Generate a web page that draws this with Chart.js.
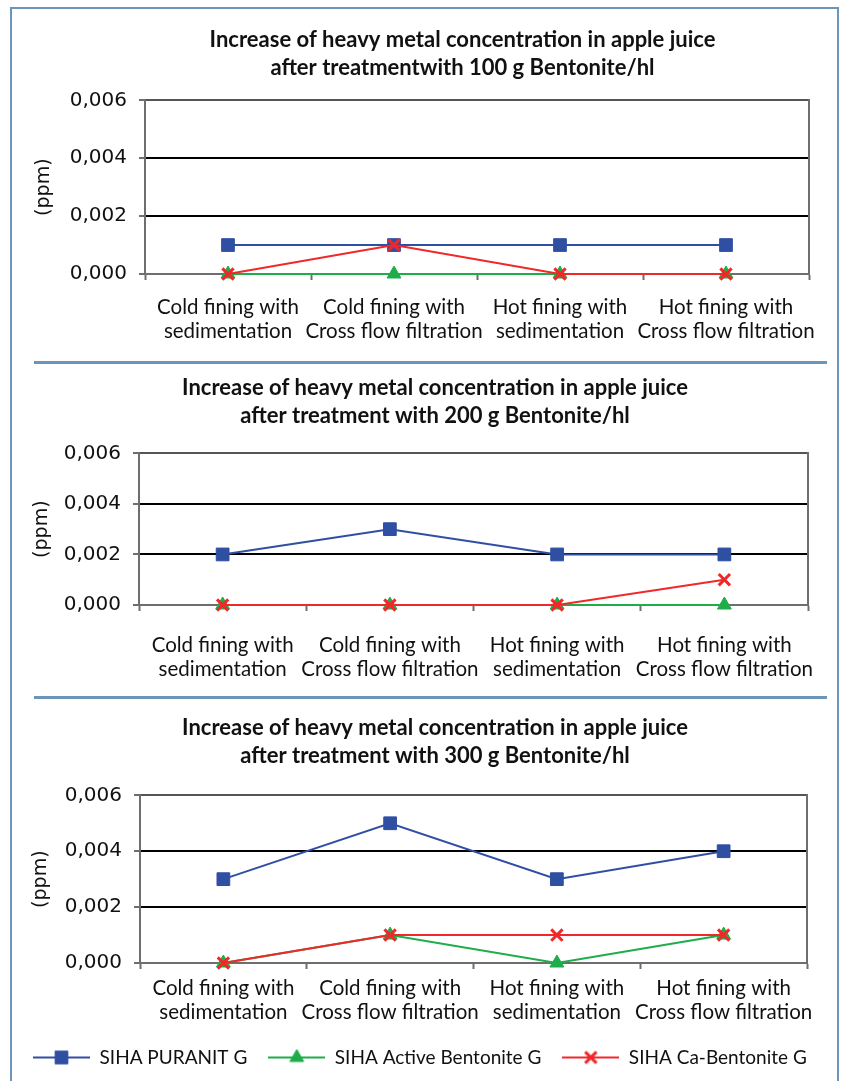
<!DOCTYPE html>
<html>
<head>
<meta charset="utf-8">
<script src="https://cdn.jsdelivr.net/npm/chart.js"></script>
<style>
  html, body { margin: 0; padding: 0; background: #fff; overflow: hidden; }
  #page { position: relative; width: 845px; height: 1081px; overflow: hidden; background: #fff; }
  .frame { position: absolute; left: 10px; top: 7px; width: 825px; height: 1100px; border: 2px solid #6b96ba; }
  .sep { position: absolute; left: 34px; width: 793px; height: 3px; background: #6b96ba; }
  canvas { position: absolute; }
</style>
</head>
<body>
<div id="page">
  <div class="frame"></div>
  <div class="sep" style="top:361px"></div>
  <div class="sep" style="top:696px"></div>
  <canvas id="chart100" width="925" height="340" style="left:0;top:12px"></canvas>
  <canvas id="chart200" width="870" height="319" style="left:0;top:366px"></canvas>
  <canvas id="chart300" width="846" height="379" style="left:12px;top:702px"></canvas>
</div>
<script>
// categories on the x axis (two lines each)
const categories = [
  ["Cold fining with", "sedimentation"],
  ["Cold fining with", "Cross flow filtration"],
  ["Hot fining with", "sedimentation"],
  ["Hot fining with", "Cross flow filtration"]
];
const seriesNames = ["SIHA PURANIT G", "SIHA Active Bentonite G", "SIHA Ca-Bentonite G"];

// 100 g Bentonite/hl (ppm)
const puranit100 = [0.001, 0.001, 0.001, 0.001];
const active100  = [0, 0, 0, 0];
const caBent100  = [0, 0.001, 0, 0];
// 200 g Bentonite/hl (ppm)
const puranit200 = [0.002, 0.003, 0.002, 0.002];
const active200  = [0, 0, 0, 0];
const caBent200  = [0, 0, 0, 0.001];
// 300 g Bentonite/hl (ppm)
const puranit300 = [0.003, 0.005, 0.003, 0.004];
const active300  = [0, 0.001, 0, 0.001];
const caBent300  = [0, 0.001, 0.001, 0.001];

const titles100 = ["Increase of heavy metal concentration in apple juice", "after treatmentwith 100 g Bentonite/hl"];
const titles200 = ["Increase of heavy metal concentration in apple juice", "after treatment with 200 g Bentonite/hl"];
const titles300 = ["Increase of heavy metal concentration in apple juice", "after treatment with 300 g Bentonite/hl"];

const yMin = 0, yMax = 0.006, yStep = 0.002;

const seriesColors = ["#2f4fa3", "#1fad4a", "#f0282a"];
const pointStyles = ["rect", "triangle", "crossRot"];
const pointRadii = [9, 8, 8];
const pointBorders = [1, 1, 3];
const axisGray = "#6e6e6e";

/**
 * Small line + marker picture used as the legend symbol of a series.
 */
function legendSymbol(i) {
  const c = document.createElement("canvas");
  c.width = 57;
  c.height = 20;
  const g = c.getContext("2d");
  g.strokeStyle = seriesColors[i];
  g.fillStyle = seriesColors[i];
  g.lineWidth = 2;
  g.beginPath();
  g.moveTo(0, 10);
  g.lineTo(57, 10);
  g.stroke();
  g.lineWidth = pointBorders[i];
  Chart.helpers.drawPoint(g, {pointStyle: pointStyles[i], radius: pointRadii[i], rotation: 0, borderWidth: pointBorders[i]}, 28.5, 10);
  return c;
}

function makeChart(id, titleLines, values, L) {
  const legendOpts = L.legend ? {
    display: true,
    position: "bottom",
    align: "start",
    labels: {
      usePointStyle: true,
      pointStyleWidth: 57,
      padding: 21,
      color: "#111",
      font: {family: "Lato", size: 19},
      generateLabels: (chart) => chart.data.datasets.map((ds, i) => ({
        text: ds.label,
        pointStyle: legendSymbol(i),
        datasetIndex: i,
        hidden: false,
        lineWidth: 0,
        fontColor: "#111"
      }))
    }
  } : {display: false};

  return new Chart(document.getElementById(id), {
    type: "line",
    data: {
      labels: categories,
      datasets: seriesNames.map((name, i) => ({
        label: name,
        data: values[i],
        borderColor: seriesColors[i],
        backgroundColor: seriesColors[i],
        borderWidth: 2,
        pointStyle: pointStyles[i],
        pointRadius: pointRadii[i],
        pointBorderWidth: pointBorders[i],
        order: 3 - i,   // red on top, blue at the bottom
        clip: false
      }))
    },
    options: {
      responsive: false,
      animation: false,
      devicePixelRatio: 1,
      layout: {padding: {left: 0, right: 0, top: 0, bottom: L.padBottom || 0}},
      plugins: {
        title: {
          display: true,
          text: titleLines,
          color: "#111",
          font: {family: "Lato", size: 22, weight: "bold", lineHeight: 1.28},
          padding: {top: L.titleTop, bottom: L.titleBottom}
        },
        legend: legendOpts,
        tooltip: {enabled: false}
      },
      scales: {
        x: {
          offset: true,
          grid: {offset: true, drawOnChartArea: false, drawTicks: true, tickLength: 6, tickColor: axisGray, tickWidth: 2},
          border: {color: axisGray, width: 2},
          ticks: {color: "#111", font: {family: "Lato", size: 20.5, lineHeight: 1.17}, padding: L.xPad, maxRotation: 0, autoSkip: false},
          afterFit: (s) => { s.height = L.xHeight; }
        },
        y: {
          min: yMin,
          max: yMax,
          ticks: {
            stepSize: yStep,
            color: "#111",
            padding: 12,
            font: {family: "DejaVu Sans", size: 20},
            callback: (v) => v.toFixed(3).replace(".", ",")
          },
          grid: {
            color: (c) => c.tick.value === 0 ? "rgba(0,0,0,0)" : (c.tick.value > 0.0055 ? "#555" : "#000"),
            lineWidth: 2,
            tickColor: axisGray,
            tickLength: 6,
            tickWidth: 2
          },
          border: {color: axisGray, width: 2},
          title: {display: true, text: "(ppm)", color: "#111", font: {family: "DejaVu Sans", size: 19}, padding: {top: L.yTitlePad, bottom: 0}},
          afterFit: (s) => { s.width = L.yWidth; }
        },
        // right edge of the plot frame
        y1: {
          position: "right",
          min: yMin,
          max: yMax,
          ticks: {display: false},
          grid: {drawOnChartArea: false, drawTicks: false},
          border: {color: axisGray, width: 2},
          afterFit: (s) => { s.width = L.rightWidth; }
        }
      }
    }
  });
}

makeChart("chart100", titles100, [puranit100, active100, caBent100],
  {titleTop: 14, titleBottom: 18, xPad: 15, xHeight: 78, yWidth: 145, yTitlePad: 33, rightWidth: 116});
makeChart("chart200", titles200, [puranit200, active200, caBent200],
  {titleTop: 8, titleBottom: 23, xPad: 22, xHeight: 80, yWidth: 139, yTitlePad: 31, rightWidth: 62});
makeChart("chart300", titles300, [puranit300, active300, caBent300],
  {titleTop: 12, titleBottom: 25, xPad: 7, xHeight: 64, yWidth: 128, yTitlePad: 18, rightWidth: 51, legend: true, padBottom: 4});
</script>
</body>
</html>
